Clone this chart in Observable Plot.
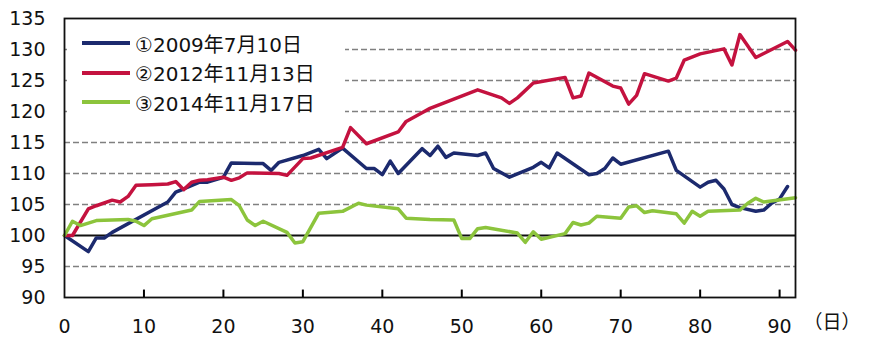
<!DOCTYPE html>
<html>
<head>
<meta charset="utf-8">
<script src="https://cdn.jsdelivr.net/npm/d3@7"></script>
<script src="https://cdn.jsdelivr.net/npm/@observablehq/plot@0.6"></script>
<style>
  html, body { margin: 0; padding: 0; background: #fff; }
  #wrap { position: relative; width: 870px; height: 358px; font-family: "DejaVu Sans", "Noto Sans CJK JP", sans-serif; }
  #legend { position: absolute; left: 67px; top: 21px; width: 278px; height: 100px; background: #fff; }
  .row { position: absolute; left: 15px; height: 24px; display: flex; align-items: center; font-size: 20px; color: #111; white-space: nowrap; }
  .sw { display: inline-block; width: 48px; height: 4px; margin-right: 5px; }
</style>
</head>
<body>
<div id="wrap"></div>
<script>
const seriesNames = ["①2009年7月10日", "②2012年11月13日", "③2014年11月17日"];
const seriesColors = ["#1c2a6e", "#c4123f", "#8cc43c"];

const s1Days = [0, 3, 4, 5, 6, 13, 14, 15, 17, 18, 20, 21, 25, 26, 27, 30, 32, 33, 35, 38, 39, 40, 41, 42, 45, 46, 47, 48, 49, 52, 53, 54, 56, 59, 60, 61, 62, 66, 67, 68, 69, 70, 76, 77, 80, 81, 82, 83, 84, 85, 87, 88, 89, 90, 91];
const s1Vals = [100, 97.4, 99.6, 99.6, 100.5, 105.4, 107.0, 107.5, 108.6, 108.6, 109.4, 111.7, 111.6, 110.5, 111.8, 112.9, 113.9, 112.4, 114.1, 110.8, 110.8, 109.8, 112.0, 110.0, 114.0, 112.9, 114.4, 112.6, 113.3, 112.9, 113.3, 110.8, 109.4, 111.0, 111.8, 110.9, 113.3, 109.8, 110.0, 110.8, 112.5, 111.5, 113.6, 110.5, 107.8, 108.6, 108.9, 107.5, 105.0, 104.5, 103.9, 104.1, 105.2, 105.9, 107.9];

const s2Days = [0, 1, 3, 4, 6, 7, 8, 9, 11, 13, 14, 15, 16, 17, 18, 20, 21, 22, 23, 27, 28, 30, 31, 35, 36, 38, 42, 43, 45, 46, 52, 55, 56, 57, 59, 63, 64, 65, 66, 69, 70, 71, 72, 73, 76, 77, 78, 80, 83, 84, 85, 87, 91, 92];
const s2Vals = [100, 100, 104.3, 104.8, 105.7, 105.4, 106.3, 108.1, 108.2, 108.3, 108.7, 107.4, 108.6, 108.9, 109.0, 109.4, 108.9, 109.3, 110.1, 110.0, 109.7, 112.4, 112.5, 114.2, 117.4, 114.8, 116.7, 118.4, 119.8, 120.5, 123.5, 122.2, 121.3, 122.2, 124.6, 125.5, 122.2, 122.5, 126.2, 124.1, 123.8, 121.2, 122.6, 126.1, 124.9, 125.4, 128.3, 129.3, 130.1, 127.5, 132.4, 128.7, 131.3, 129.9];

const s3Days = [0, 1, 2, 4, 6, 8, 9, 10, 11, 16, 17, 21, 22, 23, 24, 25, 28, 29, 30, 32, 35, 37, 38, 42, 43, 46, 49, 50, 51, 52, 53, 57, 58, 59, 60, 63, 64, 65, 66, 67, 70, 71, 72, 73, 74, 77, 78, 79, 80, 81, 85, 86, 87, 88, 92];
const s3Vals = [100, 102.3, 101.6, 102.4, 102.5, 102.6, 102.3, 101.6, 102.7, 104.1, 105.5, 105.8, 104.8, 102.5, 101.6, 102.3, 100.5, 98.8, 99.0, 103.6, 103.9, 105.2, 104.9, 104.3, 102.8, 102.6, 102.5, 99.5, 99.5, 101.1, 101.3, 100.4, 98.9, 100.6, 99.4, 100.3, 102.1, 101.7, 102.0, 103.1, 102.8, 104.6, 104.8, 103.7, 104.0, 103.5, 102.0, 103.9, 103.1, 103.9, 104.1, 105.2, 106.0, 105.4, 106.1];

const yTicks = [90, 95, 100, 105, 110, 115, 120, 125, 130, 135];
const xTicks = [0, 10, 20, 30, 40, 50, 60, 70, 80, 90];
const gridVals = [95, 105, 110, 115, 120, 125, 130];
const baseVal = [100];
const xUnit = "（日）";

const dayArrays = [s1Days, s2Days, s3Days];
const valArrays = [s1Vals, s2Vals, s3Vals];
const rows = [];
seriesNames.forEach((name, i) => {
  dayArrays[i].forEach((d, j) => rows.push({series: name, day: d, value: valArrays[i][j]}));
});

const font = '"DejaVu Sans", "Noto Sans CJK JP", sans-serif';
const yMin = yTicks[0];
const tickLen = 1.2; // inward tick length in y units
const innerTicks = xTicks.filter(d => d > 0);

const chart = Plot.plot({
  width: 870,
  height: 358,
  marginLeft: 64,
  marginRight: 75,
  marginTop: 18,
  marginBottom: 61,
  style: {fontFamily: font, fontSize: "19px", color: "#111", background: "#fff"},
  x: {domain: [0, 92]},
  y: {domain: [yMin, 135]},
  color: {domain: seriesNames, range: seriesColors},
  marks: [
    Plot.ruleY(gridVals, {stroke: "#808080", strokeWidth: 1.5, strokeDasharray: "6,3"}),
    Plot.ruleY(baseVal, {stroke: "#111", strokeWidth: 2.2}),
    Plot.line(rows, {x: "day", y: "value", z: "series", stroke: "series", strokeWidth: 3.5, strokeLinejoin: "round"}),
    Plot.frame({stroke: "#111", strokeWidth: 1.8}),
    Plot.ruleX(innerTicks, {x: d => d, y1: yMin, y2: yMin + tickLen, stroke: "black", strokeWidth: 2}),
    Plot.axisY({ticks: yTicks, tickSize: 0, tickPadding: 19, label: null, fontSize: 19}),
    Plot.axisX({ticks: xTicks, tickSize: 0, tickPadding: 22, label: null, fontSize: 19}),
    Plot.text([xUnit], {frameAnchor: "bottom-right", textAnchor: "start", dx: 8, dy: 31, fontSize: 19})
  ]
});

const wrap = document.getElementById("wrap");
wrap.appendChild(chart);
const legend = document.createElement("div");
legend.id = "legend";
seriesNames.forEach((name, i) => {
  const r = document.createElement("div");
  r.className = "row";
  r.style.top = (10 + i * 29.5) + "px";
  const sw = document.createElement("span");
  sw.className = "sw";
  sw.style.background = seriesColors[i];
  r.appendChild(sw);
  r.appendChild(document.createTextNode(name));
  legend.appendChild(r);
});
wrap.appendChild(legend);
</script>
</body>
</html>
